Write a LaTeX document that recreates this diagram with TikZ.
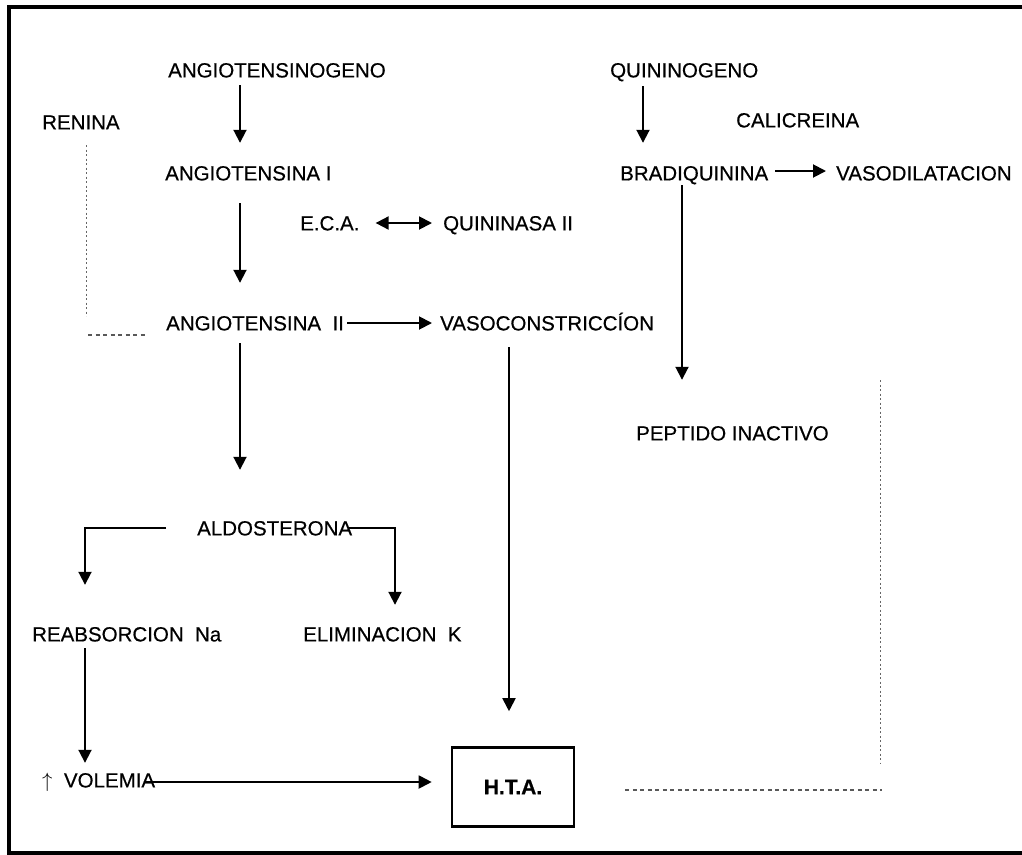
\documentclass[tikz,border=0pt]{standalone}
\usepackage{fontspec}
\setmainfont{Liberation Sans}[FakeBold=0.5]
\usetikzlibrary{arrows.meta}
\begin{document}
\begin{tikzpicture}[x=1pt,y=-1pt,
  lbl/.style={inner sep=0pt,anchor=west,text height=14.8pt,text depth=0pt,font=\fontsize{20.5}{24}\selectfont},
  arr/.style={line width=1.9pt,-{Triangle[width=13pt,length=13pt]}},
  darr/.style={line width=1.9pt,{Triangle[width=13pt,length=13pt]}-{Triangle[width=13pt,length=13pt]}},
  dots/.style={line width=1pt,black!60,dash pattern=on 2pt off 2.5pt},
  dashes/.style={line width=1.2pt,black!65,dash pattern=on 4pt off 3.5pt},
  frame/.style={line width=4pt}]
\useasboundingbox (0,0) rectangle (1022,854);
% frame (no right side)
\draw[frame] (1022,6.5) -- (8.5,6.5) -- (8.5,852.5) -- (1022,852.5);
% nodes
\node[lbl] (ag)  at (168,70)  {ANGIOTENSINOGENO};
\node[lbl] (ren) at (42,122)  {RENINA};
\node[lbl] (a1)  at (165,173) {ANGIOTENSINA I};
\node[lbl] (qg)  at (610,70)  {QUININOGENO};
\node[lbl] (cal) at (736,120) {CALICREINA};
\node[lbl] (bq)  at (620,173) {BRADIQUININA};
\node[lbl] (vd)  at (836,173) {VASODILATACION};
\node[lbl] (eca) at (300,223) {E.C.A.};
\node[lbl] (qn)  at (443,223) {QUININASA II};
\node[lbl] (a2)  at (166,323) {ANGIOTENSINA\ \ II};
\node[lbl] (vc)  at (440,323) {VASOCONSTRICCÍON};
\node[lbl] (pi)  at (636,433) {PEPTIDO INACTIVO};
\node[lbl] (al)  at (197,528) {ALDOSTERONA};
\node[lbl] (rn)  at (32,634)  {REABSORCION\ \ Na};
\node[lbl] (ek)  at (303,634) {ELIMINACION\ \ K};
\node[lbl] (vo)  at (42,780)  {$\uparrow$\ \ VOLEMIA};
\node[draw,line width=2.6pt,minimum width=122pt,minimum height=79pt,inner sep=0pt,
      font=\fontsize{21}{24}\selectfont\bfseries] (hta) at (513,787) {H.T.A.};
% column coordinates
\coordinate (cA) at (240,0);
\coordinate (cQ) at (643,0);
\coordinate (cB) at (682,0);
\coordinate (cV) at (509,0);
\coordinate (cL) at (85,0);
\coordinate (cR) at (395,0);
% arrows
\draw[arr,shorten <=7.6pt,shorten >=22.6pt] (ag.south -| cA) -- (a1.north -| cA);
\draw[arr,shorten <=22.6pt,shorten >=32.6pt] (a1.south -| cA) -- (a2.north -| cA);
\draw[arr,shorten <=12.6pt,shorten >=50.6pt] (a2.south -| cA) -- (al.north -| cA);
\draw[arr,shorten <=8.6pt,shorten >=22.6pt] (qg.south -| cQ) -- (bq.north -| cQ);
\draw[arr,shorten <=7pt,shorten >=10pt] ([yshift=2pt]bq.east) -- ([yshift=2pt]vd.west);
\draw[arr,shorten <=4.6pt,shorten >=45.6pt] (bq.south -| cB) -- (pi.north -| cB);
\draw[darr,shorten <=16pt,shorten >=11pt] (eca.east) -- (qn.west);
\draw[arr,shorten <=3pt,shorten >=8pt] (a2.east) -- (vc.west);
\draw[arr,shorten <=16.6pt,shorten >=35pt] (vc.south -| cV) -- (hta.north -| cV);
\draw[arr,shorten >=41.6pt] ([xshift=-31pt]al.west) -| (rn.north -| cL);
\draw[arr,shorten >=21.6pt] ([xshift=-3pt]al.east) -| (ek.north -| cR);
\draw[arr,shorten <=6.6pt,shorten >=9.6pt] (rn.south -| cL) -- (vo.north -| cL);
\draw[arr,shorten >=19pt] ([xshift=-9pt,yshift=-2pt]vo.east) -- ([yshift=5pt]hta.west);
% dotted lines
\coordinate (r1) at (86,145);
\coordinate (r2) at (86,316);
\coordinate (r3) at (88,335);
\coordinate (r4) at (145,335);
\coordinate (v1) at (880,380);
\coordinate (v2) at (880,763);
\coordinate (v3) at (882,790);
\draw[dots] (r1) -- (r2);
\draw[dashes] (r3) -- (r4);
\draw[dots] (v1) -- (v2);
\draw[dashes,shorten <=50pt] (hta.east |- v3) -- (v3);
\end{tikzpicture}
\end{document}
